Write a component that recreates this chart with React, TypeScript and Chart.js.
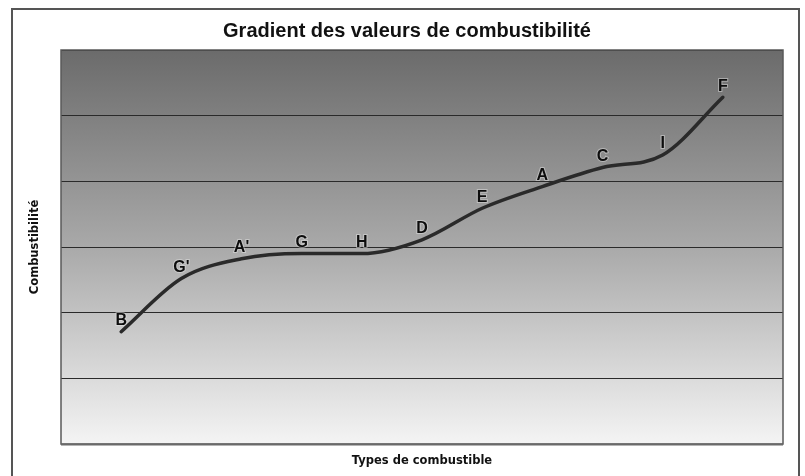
import React, { useEffect, useRef } from "react";
import { Chart, registerables } from "chart.js";

Chart.register(...registerables);

// ---- Data ----
const fuelTypes: string[] = ["B", "G'", "A'", "G", "H", "D", "E", "A", "C", "I", "F"];
const combustibility: number[] = [1.71, 2.52, 2.82, 2.9, 2.9, 3.11, 3.59, 3.92, 4.21, 4.4, 5.28];
const yGridSteps: number[] = [0, 1, 2, 3, 4, 5, 6];

const chartTitle = "Gradient des valeurs de combustibilité";
const xAxisTitle = "Types de combustible";
const yAxisTitle = "Combustibilité";

const decorPlugin = {
  id: "decor",
  beforeDraw(chart: any) {
    const { ctx, chartArea: a, width, height } = chart;
    ctx.save();
    ctx.fillStyle = "#ffffff";
    ctx.fillRect(0, 0, width, height);
    const g = ctx.createLinearGradient(0, a.top, 0, a.bottom);
    g.addColorStop(0, "#6b6b6b");
    g.addColorStop(0.5, "#a9a9a9");
    g.addColorStop(1, "#f4f4f4");
    ctx.fillStyle = g;
    ctx.fillRect(a.left, a.top, a.right - a.left, a.bottom - a.top);
    ctx.restore();
  },
  afterDatasetsDraw(chart: any) {
    const { ctx } = chart;
    const meta = chart.getDatasetMeta(0);
    ctx.save();
    ctx.font = "bold 16px 'Liberation Sans', Arial, sans-serif";
    ctx.textAlign = "center";
    ctx.textBaseline = "middle";
    meta.data.forEach((pt: any, i: number) => {
      const lbl = fuelTypes[i];
      ctx.lineWidth = 2;
      ctx.strokeStyle = "rgba(235,235,235,0.45)";
      ctx.strokeText(lbl, pt.x, pt.y - 11);
      ctx.fillStyle = "#0d0d0d";
      ctx.fillText(lbl, pt.x, pt.y - 11);
    });
    ctx.restore();
  },
  afterDraw(chart: any) {
    const { ctx, chartArea: a } = chart;
    ctx.save();
    // outer frame
    ctx.strokeStyle = "#555555";
    ctx.lineWidth = 2;
    ctx.strokeRect(12, 9, 787, 480);
    // plot frame
    ctx.strokeStyle = "#5a5a5a";
    ctx.lineWidth = 1.5;
    ctx.strokeRect(a.left, a.top, a.right - a.left, a.bottom - a.top);
    ctx.strokeStyle = "#6a6a6a";
    ctx.lineWidth = 2;
    ctx.beginPath();
    ctx.moveTo(a.left, a.bottom + 0.5);
    ctx.lineTo(a.right, a.bottom + 0.5);
    ctx.stroke();
    // titles
    ctx.fillStyle = "#111111";
    ctx.textAlign = "center";
    ctx.textBaseline = "middle";
    ctx.font = "bold 20px 'Liberation Sans', Arial, sans-serif";
    ctx.fillText(chartTitle, 407, 31);
    ctx.font = "bold 11.5px 'DejaVu Sans', Verdana, sans-serif";
    ctx.fillText(xAxisTitle, (a.left + a.right) / 2, 461);
    ctx.translate(35, (a.top + a.bottom) / 2);
    ctx.rotate(-Math.PI / 2);
    ctx.fillText(yAxisTitle, 0, 0);
    ctx.restore();
  },
};

export default function App() {
  const ref = useRef<HTMLCanvasElement | null>(null);

  useEffect(() => {
    if (!ref.current) return;
    const chart = new Chart(ref.current, {
      type: "line",
      data: {
        datasets: [
          {
            data: combustibility.map((v, i) => ({ x: i, y: v })),
            borderColor: "#2a2a2a",
            borderWidth: 3.5,
            cubicInterpolationMode: "monotone",
            pointRadius: 0,
            borderCapStyle: "round",
            fill: false,
          },
        ],
      },
      options: {
        responsive: false,
        animation: false,
        events: [],
        layout: { padding: { left: 61, top: 50, right: 22, bottom: 32 } },
        plugins: {
          legend: { display: false },
          tooltip: { enabled: false },
          title: { display: false },
        },
        scales: {
          x: {
            type: "linear",
            min: -1,
            max: fuelTypes.length,
            display: false,
          },
          y: {
            type: "linear",
            min: yGridSteps[0],
            max: yGridSteps[yGridSteps.length - 1],
            afterBuildTicks: (scale: any) => {
              scale.ticks = yGridSteps.map((v) => ({ value: v }));
            },
            ticks: { display: false },
            border: { display: false },
            grid: { color: "#2a2a2a", lineWidth: 1, drawTicks: false },
          },
        },
      },
      plugins: [decorPlugin],
    });
    return () => chart.destroy();
  }, []);

  return (
    <div style={{ position: "absolute", left: 0, top: 0, width: 805, height: 476 }}>
      <canvas ref={ref} width={805} height={476} style={{ display: "block" }} />
    </div>
  );
}
